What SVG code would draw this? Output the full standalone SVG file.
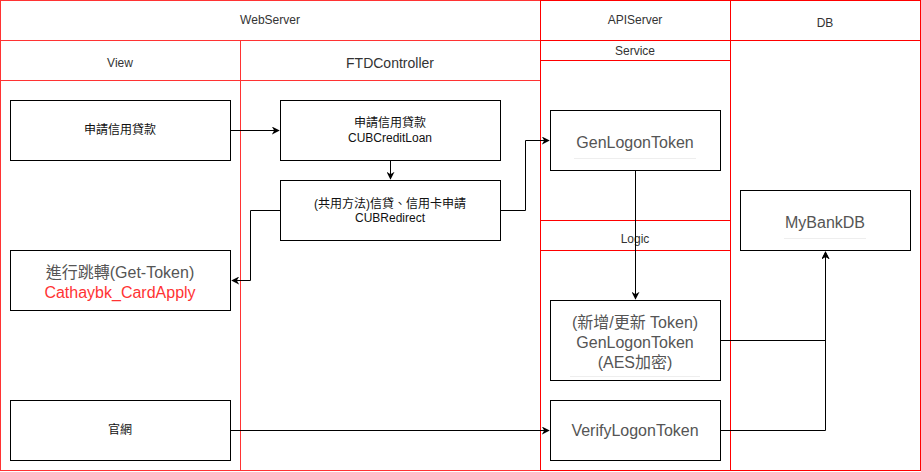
<svg xmlns="http://www.w3.org/2000/svg" width="921" height="472" viewBox="0 0 921 472">
<style>
.pw{fill:none;stroke:#FF3333;stroke-width:1}
.pr{fill:none;stroke:#FF0000;stroke-width:1}
.n{fill:#ffffff;stroke:#000000;stroke-width:1}
.t{font-family:"Liberation Sans","Noto Sans CJK TC",sans-serif;fill:#333333;text-anchor:middle;dominant-baseline:central}
.s12{font-size:12px}
.k{fill:#111111}
.s14{font-size:14px}
.s16{font-size:16px;fill:#555555}
.e{fill:none;stroke:#000000;stroke-width:1}
.hr{stroke:#eeeeee;stroke-width:1}
</style>
<defs>
<marker id="a" viewBox="0 0 10 10" refX="9" refY="5" markerWidth="8" markerHeight="8" markerUnits="userSpaceOnUse" orient="auto">
<path d="M0,0 L10,5 L0,10 L3,5 Z" fill="#000"/>
</marker>
</defs>
<rect width="921" height="472" fill="#ffffff"/>
<g id="pool-webserver">
<rect class="pw" x="0.5" y="0.5" width="540" height="470"/>
<line class="pw" x1="0.5" y1="40.5" x2="540.5" y2="40.5"/>
<line class="pw" x1="240.5" y1="40.5" x2="240.5" y2="470.5"/>
<line class="pw" x1="0.5" y1="80.5" x2="540.5" y2="80.5"/>
<text class="t s12" x="270" y="20">WebServer</text>
<text class="t s12" x="120" y="63">View</text>
<text class="t s14" x="390" y="63">FTDController</text>
</g>
<g id="pool-apiserver">
<rect class="pr" x="540.5" y="0.5" width="190" height="470"/>
<line class="pr" x1="540.5" y1="40.5" x2="730.5" y2="40.5"/>
<line class="pr" x1="540.5" y1="60.5" x2="730.5" y2="60.5"/>
<line class="pr" x1="540.5" y1="220.5" x2="730.5" y2="220.5"/>
<line class="pr" x1="540.5" y1="250.5" x2="730.5" y2="250.5"/>
<text class="t s12" x="635" y="20">APIServer</text>
<text class="t s12" x="635" y="50.5">Service</text>
<text class="t s12" x="635" y="239">Logic</text>
</g>
<g id="pool-db">
<rect class="pr" x="730.5" y="0.5" width="190" height="470"/>
<line class="pr" x1="730.5" y1="40.5" x2="920.5" y2="40.5"/>
<text class="t s12" x="825" y="23">DB</text>
</g>
<g id="connectors">
<path class="e" d="M230.5,130.5 L279,130.5" marker-end="url(#a)"/>
<path class="e" d="M390.5,160.5 L390.5,179" marker-end="url(#a)"/>
<path class="e" d="M280.5,210.5 L250.5,210.5 L250.5,280.5 L232,280.5" marker-end="url(#a)"/>
<path class="e" d="M500.5,210.5 L525.5,210.5 L525.5,140.5 L549,140.5" marker-end="url(#a)"/>
<path class="e" d="M635.5,170.5 L635.5,299" marker-end="url(#a)"/>
<path class="e" d="M720.5,340.5 L825.5,340.5 L825.5,252" marker-end="url(#a)"/>
<path class="e" d="M720.5,430.5 L825.5,430.5 L825.5,252" marker-end="url(#a)"/>
<path class="e" d="M230.5,430.5 L549,430.5" marker-end="url(#a)"/>
</g>
<g id="node-apply-view">
<rect class="n" x="10.5" y="100.5" width="220" height="60"/>
<text class="t s12 k" x="120" y="130">申請信用貸款</text>
</g>
<g id="node-creditloan">
<rect class="n" x="280.5" y="100.5" width="220" height="60"/>
<text class="t s12 k" x="390" y="123">申請信用貸款</text>
<text class="t s12 k" x="390" y="138">CUBCreditLoan</text>
</g>
<g id="node-redirect">
<rect class="n" x="280.5" y="180.5" width="220" height="60"/>
<text class="t s12 k" x="390" y="204">(共用方法)信貸、信用卡申請</text>
<text class="t s12 k" x="390" y="218">CUBRedirect</text>
</g>
<g id="node-gettoken">
<rect class="n" x="10.5" y="250.5" width="220" height="60"/>
<text class="t s16" x="120" y="272">進行跳轉(Get-Token)</text>
<text class="t s16" x="120" y="292" style="fill:#FF3333">Cathaybk_CardApply</text>
</g>
<g id="node-official">
<rect class="n" x="10.5" y="400.5" width="220" height="60"/>
<text class="t s12 k" x="120" y="430">官網</text>
</g>
<g id="node-service-gen">
<rect class="n" x="550.5" y="110.5" width="170" height="60"/>
<text class="t s16" x="635" y="142">GenLogonToken</text>
<line class="hr" x1="574" y1="158.5" x2="696" y2="158.5"/>
</g>
<g id="node-mybankdb">
<rect class="n" x="740.5" y="190.5" width="170" height="60"/>
<text class="t s16" x="825" y="222">MyBankDB</text>
<line class="hr" x1="784" y1="238.5" x2="866" y2="238.5"/>
</g>
<g id="node-logic-gen">
<rect class="n" x="550.5" y="300.5" width="170" height="80"/>
<text class="t s16" x="635" y="322">(新增/更新 Token)</text>
<text class="t s16" x="635" y="342">GenLogonToken</text>
<text class="t s16" x="635" y="362">(AES加密)</text>
<line class="hr" x1="570" y1="376.5" x2="700" y2="376.5"/>
</g>
<g id="node-verify">
<rect class="n" x="550.5" y="400.5" width="170" height="60"/>
<text class="t s16" x="635" y="430">VerifyLogonToken</text>
</g>
</svg>
